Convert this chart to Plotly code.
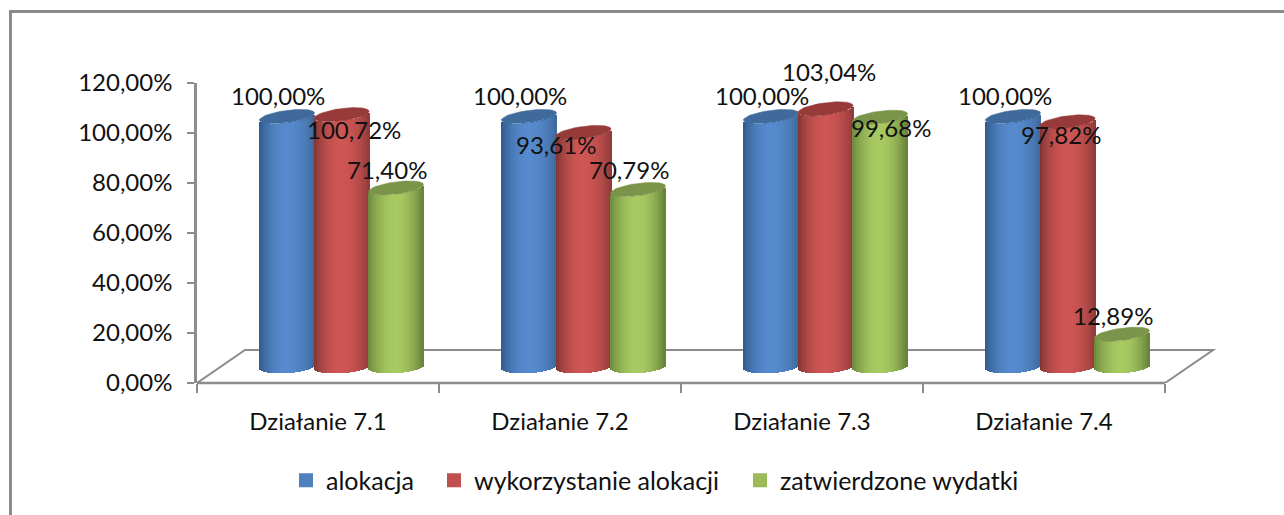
import math
import plotly.graph_objects as go

# ---- data ----
categories = ["Działanie 7.1", "Działanie 7.2", "Działanie 7.3", "Działanie 7.4"]
series_names = ["alokacja", "wykorzystanie alokacji", "zatwierdzone wydatki"]
alokacja = [100.00, 100.00, 100.00, 100.00]
wykorzystanie = [100.72, 93.61, 103.04, 97.82]
zatwierdzone = [71.40, 70.79, 99.68, 12.89]
y_ticks = [0, 20, 40, 60, 80, 100, 120]

# ---- styles ----
series_values = [alokacja, wykorzystanie, zatwierdzone]
swatch = ["#4f81bd", "#c0504d", "#9bbb59"]
top_col = ["#3f6a9b", "#963b39", "#7a9449"]
edge_l = [(46, 88, 138), (122, 48, 46), (104, 132, 60)]
mid = [(86, 138, 206), (206, 86, 84), (168, 202, 98)]
edge_r = [(62, 104, 156), (140, 58, 56), (98, 124, 56)]
GREY = "#8c8c8c"
FONT = "Lato"
TXT = "#111111"
SIZE = 24

# pixel scale of the plot frame
L, R, T, B = 197, 1216, 83, 383
PX_X = 242.0      # pixels per category
PX_Y = 2.5        # pixels per percent
X_MAX = (R - L) / PX_X
DEPTH_X, DEPTH_Y = 48 / PX_X, 33 / PX_Y

# cylinder geometry in pixels
RAD, STEP, SHIFT_X = 27.5, 54.5, 23.5
BASE_LIFT = 16.5
B_TOP, B_BOT, TILT_TOP, TILT_BOT = 6.2, 6.8, 3.5, 1.5
N = 28

# label offsets (pixels) from the top centre of each cylinder: (dx, dy up)
label_shift = [
    [(-9, 21), (-9, 21), (-9, 21), (-8, 21)],
    [(12, -15), (-27.5, -12), (3.5, 37), (-6.5, -13)],
    [(-9.5, 18.5), (-9.5, 20), (10.5, -10), (-9.5, 19)],
]
legend_left = [286, 434, 740]
legend_ids = ["legend", "legend2", "legend3"]


def mix(a, b, f):
    return tuple(int(round(a[i] + (b[i] - a[i]) * f)) for i in range(3))


def shade(j, u):
    f = math.sin((u + 1) / 2 * math.pi) ** 0.8 if abs(u) < 1 else 0
    edge = edge_l[j] if u < 0 else edge_r[j]
    return "rgb(%d,%d,%d)" % mix(edge, mid[j], f)


def centre(i, j):
    return i + 0.5 + (SHIFT_X + (j - 1) * STEP) / PX_X


def pct(v):
    return ("%.2f%%" % v).replace(".", ",")


base_c = BASE_LIFT / PX_Y
fig = go.Figure()

# cylinder bodies: narrow overlapping strips, each read from the series values
for j, vals in enumerate(series_values):
    for k in range(N):
        u = -1 + (2 * k + 1) / N
        s = math.sqrt(max(0, 1 - u * u))
        low = -B_BOT * s + TILT_BOT * u
        high = -B_TOP * s + TILT_TOP * u
        fig.add_trace(go.Bar(
            x=[centre(i, j) + u * RAD / PX_X for i in range(len(categories))],
            y=[v + (high - low) / PX_Y for v in vals],
            base=base_c + low / PX_Y,
            width=(2 * RAD / N + 1.0) / PX_X,
            marker=dict(color=shade(j, u), line=dict(width=0)),
            showlegend=False, hoverinfo="skip",
        ))

# cylinder tops
for j, vals in enumerate(series_values):
    for i, v in enumerate(vals):
        xs, ys = [], []
        for d in range(0, 361, 6):
            t = math.radians(d)
            xs.append(centre(i, j) + RAD * math.cos(t) / PX_X)
            ys.append(base_c + v + (B_TOP * math.sin(t) + TILT_TOP * math.cos(t)) / PX_Y)
        fig.add_trace(go.Scatter(x=xs, y=ys, mode="lines", fill="toself",
                                 fillcolor=top_col[j], line=dict(width=0.5, color=top_col[j]),
                                 showlegend=False, hoverinfo="skip", cliponaxis=False))

# legend keys, each in its own positioned legend
for j, name in enumerate(series_names):
    fig.add_trace(go.Scatter(x=[None], y=[None], mode="markers", name=name,
                             legend=legend_ids[j],
                             marker=dict(symbol="square", size=14, color=swatch[j])))

# data labels
annotations = []
for j, vals in enumerate(series_values):
    for i, v in enumerate(vals):
        dx, dy = label_shift[j][i]
        annotations.append(dict(
            x=centre(i, j), y=base_c + v, xref="x", yref="y",
            text=pct(v), showarrow=False,
            xshift=dx, yshift=dy, xanchor="center", yanchor="middle",
            font=dict(family=FONT, size=SIZE, color=TXT),
        ))

fx = lambda px: (px - L) / (R - L)
fy = lambda py: (B - py) / (B - T)

shapes = [
    # floor
    dict(type="path", xref="x", yref="y", layer="below",
         path=f"M 0 0 L {DEPTH_X} {DEPTH_Y} L {4 + DEPTH_X} {DEPTH_Y} L 4 0",
         line=dict(color=GREY, width=2)),
    # front edge of the axis
    dict(type="line", xref="x", yref="paper", x0=0, x1=4, y0=0, y1=0,
         line=dict(color=GREY, width=2.5), layer="above"),
    # outer frame
    dict(type="path", xref="paper", yref="paper", layer="below",
         path=f"M {fx(10.5)} {fy(515)} L {fx(10.5)} {fy(11.5)} L {fx(1284)} {fy(11.5)}",
         line=dict(color="#8a8a8a", width=3)),
]

legends = {
    legend_ids[j]: dict(orientation="h", x=fx(legend_left[j]), xanchor="left",
                        y=fy(480.5), yanchor="middle",
                        font=dict(family=FONT, size=25, color=TXT),
                        bgcolor="rgba(0,0,0,0)")
    for j in range(3)
}

fig.update_layout(
    width=1284, height=515, autosize=False,
    margin=dict(l=L, r=1284 - R, t=T, b=515 - B, pad=0),
    paper_bgcolor="white", plot_bgcolor="white",
    barmode="overlay", bargap=0, separators=", ",
    font=dict(family=FONT, size=SIZE, color=TXT),
    annotations=annotations, shapes=shapes,
    xaxis=dict(range=[0, X_MAX], tickmode="array",
               tickvals=[i + 0.5 for i in range(len(categories))],
               ticktext=categories, ticks="", showgrid=False, zeroline=False,
               showline=False, ticklabelstandoff=22,
               tickfont=dict(family=FONT, size=SIZE, color=TXT),
               minor=dict(tickmode="array", tickvals=list(range(len(categories) + 1)),
                          ticks="outside", ticklen=9, tickwidth=2, tickcolor=GREY,
                          showgrid=False)),
    yaxis=dict(range=[0, 120], tickmode="array", tickvals=y_ticks,
               ticktext=[pct(v) for v in y_ticks], ticks="outside", ticklen=7,
               tickwidth=2, tickcolor=GREY, showgrid=False, zeroline=False,
               showline=True, linecolor=GREY, linewidth=2.5,
               ticklabelstandoff=10,
               tickfont=dict(family=FONT, size=SIZE, color=TXT)),
    **legends,
)

fig.write_html("out.html", config={"displayModeBar": False},
               post_script="document.body.style.margin='0';document.documentElement.style.overflow='hidden';")
